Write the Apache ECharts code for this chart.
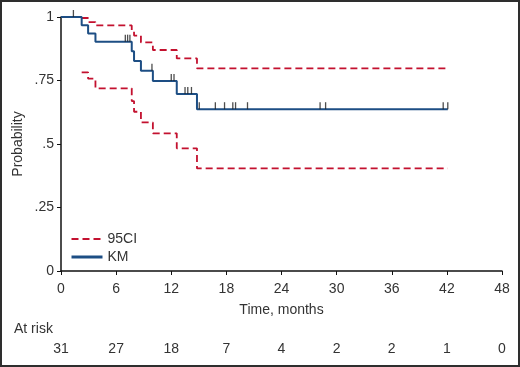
<!DOCTYPE html>
<html>
<head>
<meta charset="utf-8">
<script src="https://cdn.jsdelivr.net/npm/echarts@6/dist/echarts.min.js"></script>
<style>
  html, body { margin: 0; padding: 0; background: #fff; }
  #chart { width: 520px; height: 367px; }
</style>
</head>
<body>
<div id="chart"></div>
<script>
// Kaplan-Meier estimate (step changes)
const kmTime = [0, 2.25, 2.95, 3.75, 7.7, 7.95, 8.7, 10.0, 12.6, 14.8, 42.1];
const kmSurv = [1, 0.968, 0.935, 0.903, 0.865, 0.827, 0.788, 0.748, 0.697, 0.637, 0.637];

// 95% confidence bounds
const ciTime  = [2.25, 2.95, 3.75, 7.7, 7.95, 8.7, 10.0, 12.6, 14.8, 42.1];
const ciUpper = [0.996, 0.980, 0.967, 0.945, 0.927, 0.900, 0.870, 0.837, 0.798, 0.798];
const ciLower = [0.782, 0.757, 0.719, 0.669, 0.627, 0.585, 0.542, 0.483, 0.404, 0.404];

// censored observations
const censorTime = [1.35, 7.0, 7.25, 7.5, 9.9, 12.0, 12.3, 13.5, 13.8, 14.2, 15.05, 16.8, 17.8, 18.7, 19.0, 20.3, 28.2, 28.8, 41.6, 42.1];
const censorSurv = [1, 0.903, 0.903, 0.903, 0.788, 0.748, 0.748, 0.697, 0.697, 0.697, 0.637, 0.637, 0.637, 0.637, 0.637, 0.637, 0.637, 0.637, 0.637, 0.637];

const xTickLabels = ['0', '6', '12', '18', '24', '30', '36', '42', '48'];
const yTickLabels = ['0', '.25', '.5', '.75', '1'];
const atRisk = [31, 27, 18, 7, 4, 2, 2, 1, 0];

const font = '"Liberation Sans Narrow", "Liberation Sans", sans-serif';
const fs = 14;
const red = '#c3112f';
const navy = '#1d4e84';

const pairs = (xs, ys) => xs.map((x, i) => [x, ys[i]]);

const chart = echarts.init(document.getElementById('chart'));

chart.setOption({
    animation: false,
    textStyle: {fontFamily: font},
    grid: {left: 61, right: 18, top: 17, bottom: 96},
    legend: {
        data: [
            {name: '95CI', lineStyle: {width: 2}},
            {name: 'KM', lineStyle: {width: 3}}
        ],
        orient: 'vertical',
        left: 70,
        top: 232,
        padding: 0,
        itemWidth: 31,
        itemHeight: 12,
        itemGap: 4,
        itemStyle: {opacity: 0, borderWidth: 0},
        textStyle: {fontSize: fs, color: '#333', fontFamily: font}
    },
    xAxis: [
        {
            type: 'value',
            min: 0, max: 48, interval: 6,
            name: 'Time, months',
            nameLocation: 'middle',
            nameGap: 32,
            nameTextStyle: {fontSize: fs, color: '#333'},
            axisLine: {lineStyle: {color: '#111', width: 1.5}},
            axisTick: {length: 4, lineStyle: {color: '#111'}},
            axisLabel: {
                fontSize: fs, color: '#333', margin: 11,
                formatter: (v) => xTickLabels[Math.round(v / 6)]
            },
            splitLine: {show: false}
        },
        {
            type: 'value',
            position: 'bottom',
            offset: 63,
            min: 0, max: 48, interval: 6,
            axisLine: {show: false},
            axisTick: {show: false},
            axisLabel: {
                fontSize: fs, color: '#333', margin: 8,
                formatter: (v) => String(atRisk[Math.round(v / 6)])
            },
            splitLine: {show: false}
        }
    ],
    yAxis: {
        type: 'value',
        min: 0, max: 1, interval: 0.25,
        name: 'Probability',
        nameLocation: 'middle',
        nameGap: 36,
        nameMoveOverlap: false,
        nameTextStyle: {fontSize: fs, color: '#333'},
        axisLine: {show: true, lineStyle: {color: '#111', width: 1.5}},
        axisTick: {show: true, length: 4, lineStyle: {color: '#111'}},
        axisLabel: {
            fontSize: fs, color: '#333', margin: 7,
            formatter: (v) => yTickLabels[Math.round(v / 0.25)]
        },
        splitLine: {show: false}
    },
    graphic: [
        {
            type: 'text',
            left: 14, top: 322,
            style: {text: 'At risk', fontSize: fs, fill: '#333', fontFamily: font}
        },
        {
            type: 'rect',
            shape: {x: 1, y: 1, width: 518, height: 365},
            style: {fill: 'none', stroke: '#2e2e2e', lineWidth: 2},
            silent: true
        }
    ],
    series: [
        {
            name: '95CI',
            type: 'line',
            step: 'end',
            symbol: 'none',
            data: pairs(ciTime, ciUpper),
            lineStyle: {color: red, width: 1.8, type: [7, 4]},
            itemStyle: {color: red}
        },
        {
            name: '95CI',
            type: 'line',
            step: 'end',
            symbol: 'none',
            data: pairs(ciTime, ciLower),
            lineStyle: {color: red, width: 1.8, type: [7, 4]},
            itemStyle: {color: red}
        },
        {
            name: 'KM',
            type: 'line',
            step: 'end',
            symbol: 'none',
            data: pairs(kmTime, kmSurv),
            lineStyle: {color: navy, width: 2},
            itemStyle: {color: navy}
        },
        {
            name: 'censored',
            type: 'scatter',
            symbol: 'rect',
            symbolSize: [1.3, 7],
            symbolOffset: [0, -3.5],
            data: pairs(censorTime, censorSurv),
            itemStyle: {color: '#222'},
            z: 3
        }
    ]
});
</script>
</body>
</html>
